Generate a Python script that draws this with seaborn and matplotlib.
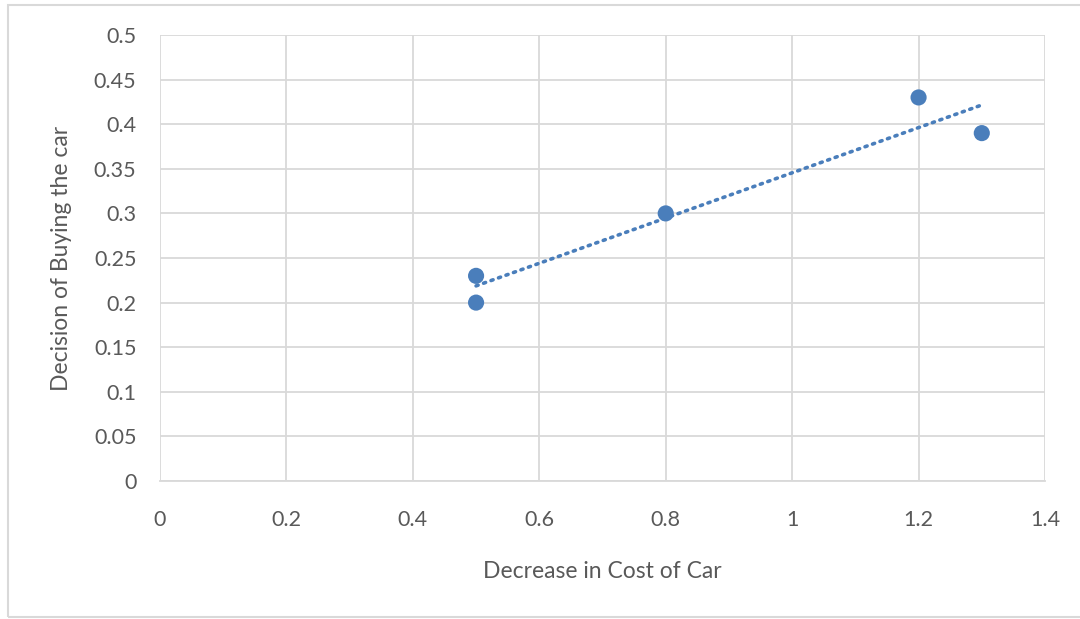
import numpy as np
import pandas as pd
import matplotlib.pyplot as plt
import matplotlib.patches as mpatches
import seaborn as sns

# ── Data ────────────────────────────────────────────────────────────────────
cost_decrease = [0.5, 0.5, 0.8, 1.2, 1.3]
buy_decision = [0.23, 0.20, 0.30, 0.43, 0.39]
x_ticks = [0, 0.2, 0.4, 0.6, 0.8, 1, 1.2, 1.4]
y_ticks = [0, 0.05, 0.1, 0.15, 0.2, 0.25, 0.3, 0.35, 0.4, 0.45, 0.5]

df = pd.DataFrame({"x": cost_decrease, "y": buy_decision})

# ── Style ───────────────────────────────────────────────────────────────────
sns.set_theme(style="white")
plt.rcParams["font.family"] = ["Lato", "DejaVu Sans"]
BLUE = "#4a7ebb"
GRID = "#d9d9d9"
TEXT = "#595959"

fig = plt.figure(figsize=(10.8, 6.19), dpi=100)
ax = fig.add_axes([160 / 1080, 1 - 481 / 619, 885 / 1080, 446 / 619])

sns.regplot(
    data=df, x="x", y="y", ax=ax, ci=None, color=BLUE,
    scatter_kws=dict(s=135, alpha=1, edgecolor="none", zorder=3),
    line_kws=dict(linestyle=(0, (0.6, 1.6)), linewidth=2.6,
                  dash_capstyle="round", zorder=2),
)

ax.set_xlim(0, 1.4)
ax.set_ylim(0, 0.5)
ax.set_xticks(x_ticks)
ax.set_yticks(y_ticks)
ax.set_xticklabels([f"{t:g}" for t in x_ticks])
ax.set_yticklabels([f"{t:g}" for t in y_ticks])
ax.tick_params(axis="both", length=0, labelsize=15.5, colors=TEXT)
ax.tick_params(axis="x", pad=21)
ax.tick_params(axis="y", pad=17)
ax.grid(True, color=GRID, linewidth=1.3)
ax.set_axisbelow(True)
for side in ["top", "right", "left"]:
    ax.spines[side].set_visible(False)
ax.spines["bottom"].set_color(GRID)
ax.spines["bottom"].set_linewidth(1.3)

ax.set_xlabel("Decrease in Cost of Car", fontsize=16.5, color=TEXT, labelpad=22)
ax.set_ylabel("Decision of Buying the car", fontsize=16.5, color=TEXT, labelpad=16)

# chart border like the spreadsheet frame
fig.patches.append(mpatches.Rectangle(
    (8 / 1080, 2 / 619), 1.2, 612 / 619, transform=fig.transFigure,
    fill=False, edgecolor="#d9d9d9", linewidth=1.5))

fig.savefig("out.png", dpi=100)
